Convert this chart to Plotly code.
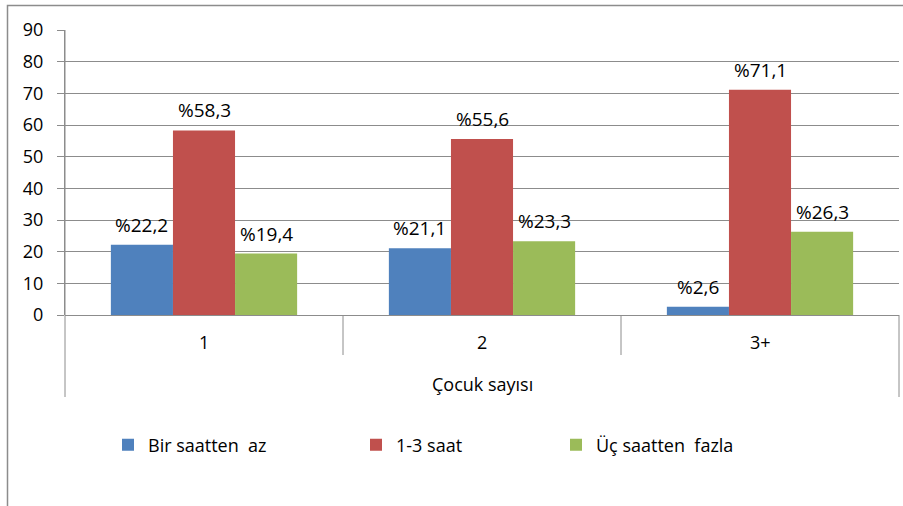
import plotly.graph_objects as go

categories = ["1", "2", "3+"]
series_names = ["Bir saatten  az", "1-3 saat", "Üç saatten  fazla"]
bir_saatten_az = [22.2, 21.1, 2.6]
bir_uc_saat = [58.3, 55.6, 71.1]
uc_saatten_fazla = [19.4, 23.3, 26.3]
colors = ["#4F81BD", "#C0504D", "#9BBB59"]
y_ticks = [0, 10, 20, 30, 40, 50, 60, 70, 80, 90]
axis_title = "Çocuk sayısı"

W, H = 903, 506
L, R, T, B = 65, 4, 30, 191
pw, ph = W - L - R, H - T - B

def px_x(p):
    return (p - L) / pw

def px_y(p):
    return (H - B - p) / ph

FONT = "Open Sans"
legend_ids = ["legend", "legend2", "legend3"]
legend_px = [108, 356, 556]

fig = go.Figure()
all_series = [bir_saatten_az, bir_uc_saat, uc_saatten_fazla]
for name, vals, col, lid in zip(series_names, all_series, colors, legend_ids):
    fig.add_trace(go.Bar(
        x=categories, y=vals, name=name, marker=dict(color=col, line=dict(width=0)),
        textposition="none", hoverinfo="skip", legend=lid, showlegend=True,
    ))

# data labels as annotations above each bar
offsets = [-1, 0, 1]
annotations = []
for off, vals in zip(offsets, all_series):
    for i, v in enumerate(vals):
        annotations.append(dict(
            x=i + off * 0.2233, y=v, xref="x", yref="y",
            text="%" + f"{v:.1f}".replace(".", ","), showarrow=False,
            yanchor="bottom", yshift=5, font=dict(family=FONT, size=19, color="#000000"),
        ))
for i, c in enumerate(categories):
    annotations.append(dict(x=i, y=px_y(342), xref="x", yref="paper", text=c, showarrow=False,
                            yanchor="middle", font=dict(family=FONT, size=18, color="#000000")))
annotations.append(dict(x=0.5, y=px_y(384), xref="paper", yref="paper", text=axis_title, showarrow=False,
                        yanchor="middle", font=dict(family=FONT, size=18, color="#000000")))

line_col = "#8C8C8C"
shapes = [
    # outer chart border
    dict(type="rect", xref="paper", yref="paper", x0=px_x(7.5), x1=px_x(910), y0=px_y(5.5), y1=px_y(520),
         line=dict(color="#8C8C8C", width=1.5), layer="below"),
    # y-axis extension downward
    dict(type="line", xref="paper", yref="paper", x0=0, x1=0, y0=px_y(30), y1=px_y(397),
         line=dict(color=line_col, width=1)),
    # right edge of table
    dict(type="line", xref="paper", yref="paper", x0=1, x1=1, y0=px_y(315), y1=px_y(397),
         line=dict(color=line_col, width=1)),
]
for xd in [0.5, 1.5]:
    shapes.append(dict(type="line", xref="x", yref="paper", x0=xd, x1=xd, y0=px_y(315), y1=px_y(355),
                       line=dict(color=line_col, width=1)))

legend_common = dict(orientation="h", y=px_y(445), xanchor="left", yanchor="middle",
                     font=dict(family=FONT, size=18, color="#000000"), itemwidth=30,
                     bgcolor="rgba(0,0,0,0)", visible=True)

fig.update_layout(
    width=W, height=H, showlegend=True,
    margin=dict(l=L, r=R, t=T, b=B, autoexpand=False),
    paper_bgcolor="white", plot_bgcolor="white",
    barmode="group", bargap=0.33, bargroupgap=0,
    font=dict(family=FONT, size=18, color="#000000"),
    xaxis=dict(range=[-0.5, 2.5], showticklabels=False, showgrid=False, zeroline=False,
               showline=False, ticks=""),
    yaxis=dict(range=[0, 90], tickvals=y_ticks, showgrid=True, gridcolor=line_col, gridwidth=1,
               zeroline=True, zerolinecolor=line_col, zerolinewidth=1,
               showline=True, linecolor=line_col, linewidth=1, ticks="outside", ticklen=7,
               tickcolor=line_col, ticklabelstandoff=10,
               tickfont=dict(family=FONT, size=18, color="#000000")),
    legend=dict(x=px_x(legend_px[0]), **legend_common),
    legend2=dict(x=px_x(legend_px[1]), **legend_common),
    legend3=dict(x=px_x(legend_px[2]), **legend_common),
    annotations=annotations, shapes=shapes,
)
fig.write_html("out.html", config={"displayModeBar": False},
               post_script="document.body.style.margin='0';document.body.style.overflow='hidden';")
